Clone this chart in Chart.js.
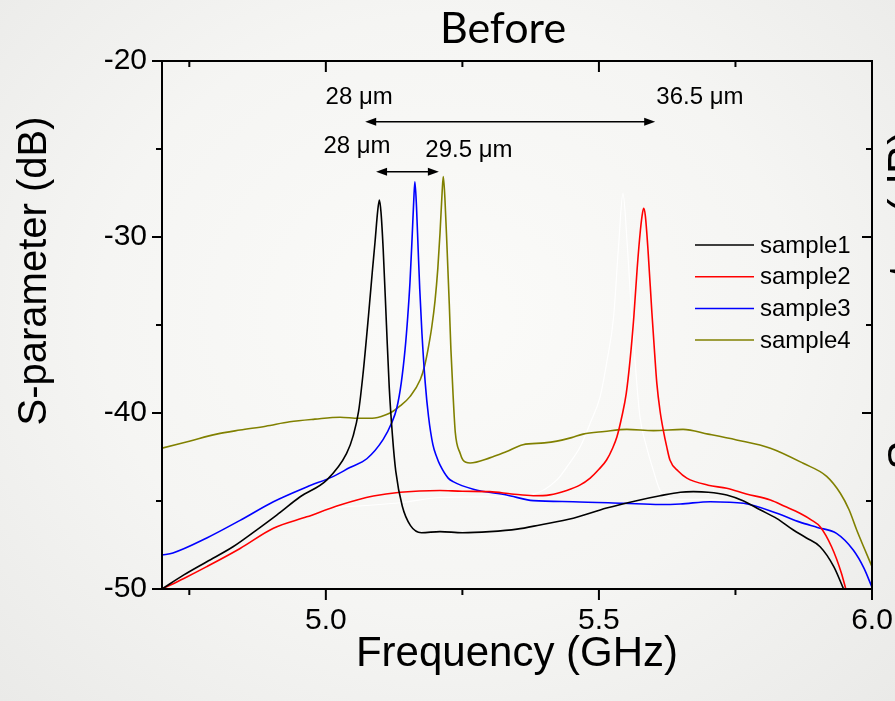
<!DOCTYPE html>
<html>
<head>
<meta charset="utf-8">
<script src="https://cdn.jsdelivr.net/npm/chart.js"></script>
<style>
  html, body { margin: 0; padding: 0; }
  body {
    width: 895px; height: 701px; overflow: hidden;
    background: radial-gradient(ellipse at 50% 45%, #fbfbf9 0%, #f5f5f3 55%, #eaeae8 100%);
  }
  #wrap { width: 895px; height: 701px; position: relative; }
</style>
</head>
<body>
<div id="wrap"><canvas id="chart"></canvas></div>
<script>
// sample1 (black)
const s1Freq = [4.70, 4.74, 4.782, 4.83, 4.873, 4.91, 4.953, 5.002, 5.038, 5.050, 5.060, 5.068, 5.078, 5.085, 5.090, 5.095, 5.098, 5.101, 5.105, 5.111, 5.116, 5.122, 5.128, 5.140, 5.155, 5.175, 5.209, 5.25, 5.30, 5.35, 5.392, 5.453, 5.514, 5.575, 5.612, 5.649, 5.673, 5.70, 5.734, 5.765, 5.795, 5.826, 5.856, 5.88, 5.905, 5.93, 5.948];
const s1Db = [-50.0, -49.2, -48.45, -47.6, -46.65, -45.8, -44.76, -43.8, -42.3, -41.3, -39.9, -37.8, -34.5, -32.0, -30.3, -28.5, -27.9, -28.6, -30.7, -35.0, -38.5, -41.3, -43.3, -45.3, -46.4, -46.8, -46.74, -46.8, -46.74, -46.6, -46.36, -45.98, -45.4, -44.94, -44.7, -44.5, -44.47, -44.5, -44.66, -45.0, -45.5, -46.0, -46.65, -47.1, -47.6, -48.73, -50.0];

// sample2 (red)
const s2Freq = [4.70, 4.74, 4.782, 4.843, 4.904, 4.965, 5.026, 5.087, 5.136, 5.209, 5.25, 5.30, 5.34, 5.38, 5.41, 5.441, 5.465, 5.484, 5.50, 5.514, 5.525, 5.533, 5.542, 5.550, 5.557, 5.564, 5.570, 5.576, 5.580, 5.582, 5.585, 5.590, 5.597, 5.602, 5.606, 5.612, 5.618, 5.624, 5.63, 5.645, 5.661, 5.70, 5.734, 5.77, 5.814, 5.84, 5.868, 5.89, 5.905, 5.926, 5.944, 5.952];
const s2Db = [-50.0, -49.4, -48.73, -47.7, -46.55, -45.9, -45.23, -44.72, -44.5, -44.4, -44.45, -44.47, -44.6, -44.7, -44.65, -44.4, -44.1, -43.7, -43.2, -42.67, -42.0, -41.35, -40.2, -38.9, -37.0, -34.5, -31.8, -29.6, -28.6, -28.37, -28.8, -30.8, -34.3, -36.6, -38.3, -39.9, -41.0, -41.9, -42.67, -43.3, -43.7, -44.1, -44.28, -44.6, -44.94, -45.3, -45.7, -46.1, -46.46, -47.6, -49.1, -50.0];

// sample3 (blue)
const s3Freq = [4.70, 4.72, 4.782, 4.843, 4.904, 4.965, 5.014, 5.044, 5.075, 5.105, 5.12, 5.13, 5.138, 5.145, 5.150, 5.154, 5.158, 5.161, 5.163, 5.166, 5.169, 5.172, 5.176, 5.182, 5.188, 5.196, 5.203, 5.209, 5.224, 5.233, 5.27, 5.331, 5.38, 5.453, 5.545, 5.612, 5.649, 5.704, 5.765, 5.826, 5.868, 5.90, 5.935, 5.966, 5.985, 6.0];
const s3Db = [-48.07, -47.95, -47.1, -46.1, -45.04, -44.2, -43.6, -43.1, -42.6, -41.5, -40.6, -39.7, -38.3, -36.4, -34.5, -32.6, -30.0, -27.9, -26.86, -28.3, -30.7, -33.0, -35.5, -38.3, -40.2, -41.8, -42.5, -42.95, -43.7, -43.9, -44.33, -44.66, -44.98, -45.04, -45.13, -45.2, -45.17, -45.04, -45.13, -45.7, -46.2, -46.5, -46.84, -47.8, -48.8, -49.9];

// sample4 (olive)
const s4Freq = [4.70, 4.75, 4.80, 4.843, 4.89, 4.934, 4.98, 5.026, 5.06, 5.085, 5.11, 5.123, 5.136, 5.154, 5.173, 5.181, 5.187, 5.194, 5.20, 5.205, 5.209, 5.213, 5.215, 5.218, 5.222, 5.226, 5.229, 5.233, 5.237, 5.246, 5.251, 5.264, 5.30, 5.33, 5.361, 5.40, 5.423, 5.45, 5.471, 5.51, 5.551, 5.60, 5.654, 5.70, 5.752, 5.814, 5.874, 5.917, 5.942, 5.958, 5.972, 5.986, 6.0];
const s4Db = [-42.0, -41.6, -41.2, -40.97, -40.75, -40.5, -40.35, -40.24, -40.3, -40.3, -40.1, -39.9, -39.6, -39.07, -38.1, -37.3, -36.4, -35.1, -33.6, -31.8, -29.8, -27.4, -26.57, -27.8, -30.7, -33.8, -36.4, -39.0, -41.1, -42.3, -42.67, -42.84, -42.55, -42.2, -41.8, -41.7, -41.6, -41.4, -41.2, -41.05, -40.93, -41.0, -40.93, -41.2, -41.53, -42.0, -42.86, -43.6, -44.56, -45.5, -46.65, -47.7, -48.73];

// faint white trace (not in legend)
const s5Freq = [5.00, 5.136, 5.21, 5.30, 5.38, 5.423, 5.445, 5.466, 5.485, 5.502, 5.515, 5.527, 5.536, 5.544, 5.552, 5.56, 5.568, 5.575, 5.587, 5.60, 5.612, 5.64, 5.70, 5.76];
const s5Db = [-45.4, -45.1, -44.8, -44.76, -44.6, -43.8, -42.9, -41.9, -40.5, -39.1, -37.0, -34.5, -30.5, -27.52, -30.5, -34.5, -37.8, -40.2, -41.9, -43.3, -44.4, -44.9, -44.9, -45.2];

const seriesNames = ["sample1", "sample2", "sample3", "sample4", ""];
const seriesColors = ["#000000", "#ff0000", "#0000ff", "#808000", "#ffffff"];

const xMajorTicks = [5.0, 5.5, 6.0];
const xMinorTicks = [4.75, 5.25, 5.75];
const yMajorTicks = [-20, -30, -40, -50];
const yMinorTicks = [-25, -35, -45];

// arrows: [from GHz, to GHz, at dB]
const arrows = [[5.072, 5.603, -23.45], [5.092, 5.207, -26.29]];
// labels: [text, GHz, dB]
const notes = [["28 \u03bcm", 5.061, -22.05], ["36.5 \u03bcm", 5.685, -22.05], ["28 \u03bcm", 5.057, -24.83], ["29.5 \u03bcm", 5.262, -25.06]];

const pairs = (fs, ds) => fs.map((f, i) => ({ x: f, y: ds[i] }));
const allData = [pairs(s1Freq, s1Db), pairs(s2Freq, s2Db), pairs(s3Freq, s3Db), pairs(s4Freq, s4Db), pairs(s5Freq, s5Db)];

const arial = "'Liberation Sans', Arial, sans-serif";

const frameAndExtras = {
  id: "frameAndExtras",
  afterDatasetsDraw(chart) {
    const { ctx, chartArea: a, scales: { x, y } } = chart;
    ctx.save();
    ctx.strokeStyle = "#000";
    ctx.fillStyle = "#000";

    // frame
    ctx.lineWidth = 2;
    ctx.strokeRect(a.left, a.top, a.right - a.left, a.bottom - a.top);

    // ticks
    const tick = (x0, y0, x1, y1) => { ctx.beginPath(); ctx.moveTo(x0, y0); ctx.lineTo(x1, y1); ctx.stroke(); };
    xMajorTicks.forEach(v => { const px = x.getPixelForValue(v); tick(px, a.bottom, px, a.bottom + 11); tick(px, a.top, px, a.top + 11); });
    xMinorTicks.forEach(v => { const px = x.getPixelForValue(v); tick(px, a.bottom, px, a.bottom + 6); tick(px, a.top, px, a.top + 6); });
    yMajorTicks.forEach(v => { const py = y.getPixelForValue(v); tick(a.left - 10, py, a.left, py); tick(a.right - 10, py, a.right, py); });
    yMinorTicks.forEach(v => { const py = y.getPixelForValue(v); tick(a.left - 6, py, a.left, py); tick(a.right - 6, py, a.right, py); });

    // arrows
    ctx.lineWidth = 1.5;
    const head = (px, py, dir) => {
      ctx.beginPath();
      ctx.moveTo(px, py);
      ctx.lineTo(px + dir * 11, py - 4);
      ctx.lineTo(px + dir * 11, py + 4);
      ctx.closePath();
      ctx.fill();
    };
    arrows.forEach(([f0, f1, db]) => {
      const x0 = x.getPixelForValue(f0), x1 = x.getPixelForValue(f1), py = y.getPixelForValue(db);
      tick(x0 + 5, py, x1 - 5, py);
      head(x0, py, 1);
      head(x1, py, -1);
    });

    // annotation text
    ctx.font = "24px " + arial;
    ctx.textAlign = "center";
    ctx.textBaseline = "middle";
    notes.forEach(([t, f, db]) => ctx.fillText(t, x.getPixelForValue(f), y.getPixelForValue(db)));

    // legend inside the plot
    ctx.textAlign = "left";
    for (let i = 0; i < 4; i++) {
      const ly = 245 + i * 31.7;
      ctx.strokeStyle = seriesColors[i];
      ctx.lineWidth = 1.5;
      tick(695, ly, 754, ly);
      ctx.fillStyle = "#000";
      ctx.fillText(seriesNames[i], 760, ly + 1);
    }

    // title
    ctx.font = "43px Lato, 'Open Sans', sans-serif";
    ctx.textAlign = "center";
    ctx.fillText("Before", 503, 29);

    // y axis title
    ctx.save();
    ctx.translate(35, 271);
    ctx.rotate(-Math.PI / 2);
    ctx.font = "40px " + arial;
    ctx.fillText("S-parameter (dB)", 0, 0);
    ctx.restore();

    // neighbouring chart's axis title, cut by the edge
    ctx.translate(919, 300);
    ctx.rotate(-Math.PI / 2);
    ctx.font = "44px " + arial;
    ctx.textBaseline = "alphabetic";
    ctx.fillText("S-parameter (dB)", 0, 0);
    ctx.restore();
  }
};

new Chart(document.getElementById("chart"), {
  type: "line",
  data: {
    datasets: allData.map((d, i) => ({
      label: seriesNames[i],
      data: d,
      borderColor: seriesColors[i],
      borderWidth: i === 4 ? 1.2 : 1.6,
      pointRadius: 0,
      cubicInterpolationMode: "monotone",
      fill: false
    }))
  },
  options: {
    responsive: true,
    maintainAspectRatio: false,
    animation: false,
    layout: { padding: { left: 0, right: 23, top: 61, bottom: 0 } },
    plugins: {
      legend: { display: false },
      tooltip: { enabled: false },
      title: { display: false }
    },
    scales: {
      x: {
        type: "linear",
        min: 4.7,
        max: 6.0,
        grid: { display: false, drawTicks: false },
        border: { display: false },
        afterBuildTicks: s => { s.ticks = [...xMinorTicks, ...xMajorTicks].sort((a, b) => a - b).map(v => ({ value: v })); },
        ticks: {
          autoSkip: false,
          maxRotation: 0,
          padding: 14,
          color: "#000",
          font: { family: arial, size: 30 },
          callback: v => xMajorTicks.includes(v) ? v.toFixed(1) : ""
        },
        title: {
          display: true,
          text: "Frequency (GHz)",
          color: "#000",
          font: { family: arial, size: 42 },
          padding: { top: 0, bottom: 21 }
        },
        afterFit: s => { s.height = 112; s.paddingLeft = 0; s.paddingRight = 0; }
      },
      y: {
        min: -50,
        max: -20,
        grid: { display: false, drawTicks: false },
        border: { display: false },
        afterBuildTicks: s => { s.ticks = yMajorTicks.map(v => ({ value: v })); },
        ticks: {
          autoSkip: false,
          padding: 15,
          color: "#000",
          font: { family: arial, size: 30 },
          callback: v => String(v)
        },
        afterFit: s => { s.width = 162; s.paddingTop = 0; s.paddingBottom = 0; }
      }
    }
  },
  plugins: [frameAndExtras]
});
</script>
</body>
</html>
